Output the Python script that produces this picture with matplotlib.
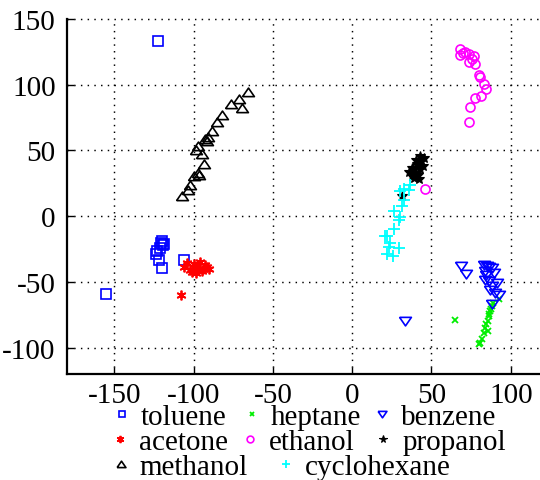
import matplotlib
matplotlib.use("Agg")
import matplotlib.pyplot as plt
from matplotlib.lines import Line2D

plt.rcParams['font.family'] = ['Liberation Serif', 'DejaVu Serif']

# --- data -------------------------------------------------------------
toluene_x = [-122.6, -120.8, -122.8, -121.8, -120.0, -106.0, -155.5, -119.5, -121.0, -123.5, -118.5, -120.0]
toluene_y = [133.0, -20.0, -26.6, -33.0, -39.0, -33.0, -59.4, -22.0, -24.0, -29.0, -21.0, -18.5]

heptane_x = [65.0, 92.3, 88.2, 87.1, 86.0, 85.4, 84.0, 85.4, 82.9, 81.9, 80.8, 79.7, 89.0, 87.5, 86.5, 84.5]
heptane_y = [-78.6, -62.9, -68.5, -72.3, -76.1, -79.9, -84.9, -87.0, -88.7, -93.3, -96.3, -97.1, -66.0, -70.5, -74.0, -82.0]

benzene_x = [68.6, 72.0, 82.9, 85.0, 88.2, 83.9, 89.2, 83.9, 86.0, 91.3, 88.2, 87.1, 90.2, 92.3, 88.2, 33.6, 84.5, 86.5]
benzene_y = [-37.5, -43.9, -36.8, -37.5, -39.3, -41.8, -43.1, -48.2, -49.5, -50.7, -53.3, -55.8, -58.3, -60.1, -66.4, -79.4, -45.0, -38.5]

acetone_x = [-97.6, -106.0, -90.0, -100.0, -95.0, -102.0, -93.0, -98.5, -96.0, -104.0, -91.5, -99.0, -94.0, -101.0, -108.0]
acetone_y = [-38.0, -38.5, -40.0, -36.0, -42.0, -41.0, -37.0, -43.0, -34.5, -35.5, -38.5, -39.5, -40.5, -42.5, -60.0]

ethanol_x = [67.8, 68.2, 71.3, 73.4, 76.6, 73.9, 77.2, 79.7, 80.4, 82.9, 84.6, 81.2, 77.2, 74.0, 73.4, 46.2, 75.5, 70.0]
ethanol_y = [127.4, 122.5, 125.0, 123.6, 121.8, 117.2, 116.0, 107.8, 105.8, 100.8, 96.4, 91.3, 89.6, 83.2, 71.8, 20.8, 119.5, 124.0]

propanol_x = [36.0, 38.5, 41.0, 43.5, 45.5, 37.5, 40.0, 42.5, 44.5, 39.0, 41.5, 43.0, 38.0, 40.5, 42.0, 31.5]
propanol_y = [34.0, 37.0, 40.0, 42.0, 44.0, 30.5, 33.0, 36.0, 38.5, 29.0, 31.5, 46.0, 36.5, 43.0, 28.5, 15.2]

methanol_x = [-66.0, -71.4, -69.3, -76.6, -81.9, -85.5, -88.2, -90.9, -91.7, -97.0, -98.7, -94.9,
              -93.4, -97.2, -99.7, -102.2, -103.5, -107.3, -92.5, -96.5]
methanol_y = [94.6, 89.5, 82.0, 85.0, 77.0, 72.0, 65.0, 60.0, 57.0, 53.8, 50.0, 47.7,
              40.0, 33.0, 30.4, 24.0, 19.8, 15.2, 58.5, 31.5]

cyclohexane_x = [36.7, 32.5, 30.0, 35.6, 32.5, 31.5, 26.2, 30.0, 29.3, 26.2, 22.0, 24.1, 29.3, 23.0,
                 22.0, 25.8, 21.0]
cyclohexane_y = [24.0, 20.8, 19.0, 19.8, 12.2, 7.6, 3.8, -0.5, -3.0, -10.0, -15.2, -20.3, -24.0, -23.3,
                 -29.0, -30.0, -14.7]

x_ticks = [-150, -100, -50, 0, 50, 100]
y_ticks = [-100, -50, 0, 50, 100, 150]

# wide, flat triangles (gnuplot style)
tri_up = [(-1.0, -0.7), (1.0, -0.7), (0.0, 0.75), (-1.0, -0.7)]
tri_down = [(-1.0, 0.7), (1.0, 0.7), (0.0, -0.75), (-1.0, 0.7)]

# --- figure -----------------------------------------------------------
W, H = 540, 481
fig = plt.figure(figsize=(W / 100, H / 100), dpi=100)
ax = fig.add_axes([66.7 / W, 106 / H, (542.5 - 66.7) / W, (375 - 19.5) / H])
ax.set_xlim(-180, 120)
ax.set_ylim(-120, 150.4)

series = [
    ("toluene", toluene_x, toluene_y, dict(marker='s', ms=6.5, mfc='none', mec='#0000ff', mew=1.2)),
    ("heptane", heptane_x, heptane_y, dict(marker='x', ms=4.5, mec='#00ee00', mew=1.3)),
    ("benzene", benzene_x, benzene_y, dict(marker=tri_down, ms=8.5, mfc='none', mec='#0000ff', mew=1.2)),
    ("acetone", acetone_x, acetone_y, dict(marker=(6, 2, 0), ms=7, mec='#ff0000', mew=1.3)),
    ("ethanol", ethanol_x, ethanol_y, dict(marker='o', ms=6.5, mfc='none', mec='#ff00ff', mew=1.2)),
    ("propanol", propanol_x, propanol_y, dict(marker='*', ms=7.5, mfc='black', mec='black', mew=0.8)),
    ("methanol", methanol_x, methanol_y, dict(marker=tri_up, ms=8.5, mfc='none', mec='black', mew=1.2)),
    ("cyclohexane", cyclohexane_x, cyclohexane_y, dict(marker='+', ms=8.5, mec='#00ffff', mew=1.3)),
]

legend_handles = {}
for name, xs, ys, style in series:
    ax.plot(xs, ys, linestyle='none', label=name, **style)
    small = dict(style)
    small['ms'] = style['ms'] * 0.75
    legend_handles[name] = Line2D([], [], linestyle='none', **small)

# axes styling
for side in ('top', 'right'):
    ax.spines[side].set_visible(False)
for side in ('left', 'bottom'):
    ax.spines[side].set_linewidth(1.6)
ax.set_xticks(x_ticks)
ax.set_yticks(y_ticks)
ax.set_xticklabels([str(v) for v in x_ticks])
ax.set_yticklabels([str(v) for v in y_ticks])
ax.tick_params(direction='in', length=5, width=1.0, labelsize=21, colors='black')
ax.tick_params(axis='x', pad=6)
ax.tick_params(axis='y', pad=8)
ax.grid(True, color='black', linestyle=(0, (1, 3.6)), linewidth=1.05)
for gl in ax.get_xgridlines() + ax.get_ygridlines():
    gl.set_clip_on(False)

# legend entries, one per label, laid out in three rows
fs = 21
entries = [
    ("toluene", 121.5, 417.5), ("heptane", 251.5, 417.5), ("benzene", 382.3, 417.5),
    ("acetone", 120.0, 443.0), ("ethanol", 250.3, 443.0), ("propanol", 383.3, 443.0),
    ("methanol", 120.7, 468.0), ("cyclohexane", 286.0, 468.0),
]
hl = 1.0
for name, mx, my in entries:
    left_px = mx - hl * fs * 100 / 72 / 2
    fig.legend([legend_handles[name]], [name], loc='center left',
               bbox_to_anchor=(left_px / W, 1 - my / H),
               frameon=False, fontsize=fs, handlelength=hl, handletextpad=0.15,
               borderpad=0, borderaxespad=0, numpoints=1)

fig.savefig("out.png", dpi=100)
